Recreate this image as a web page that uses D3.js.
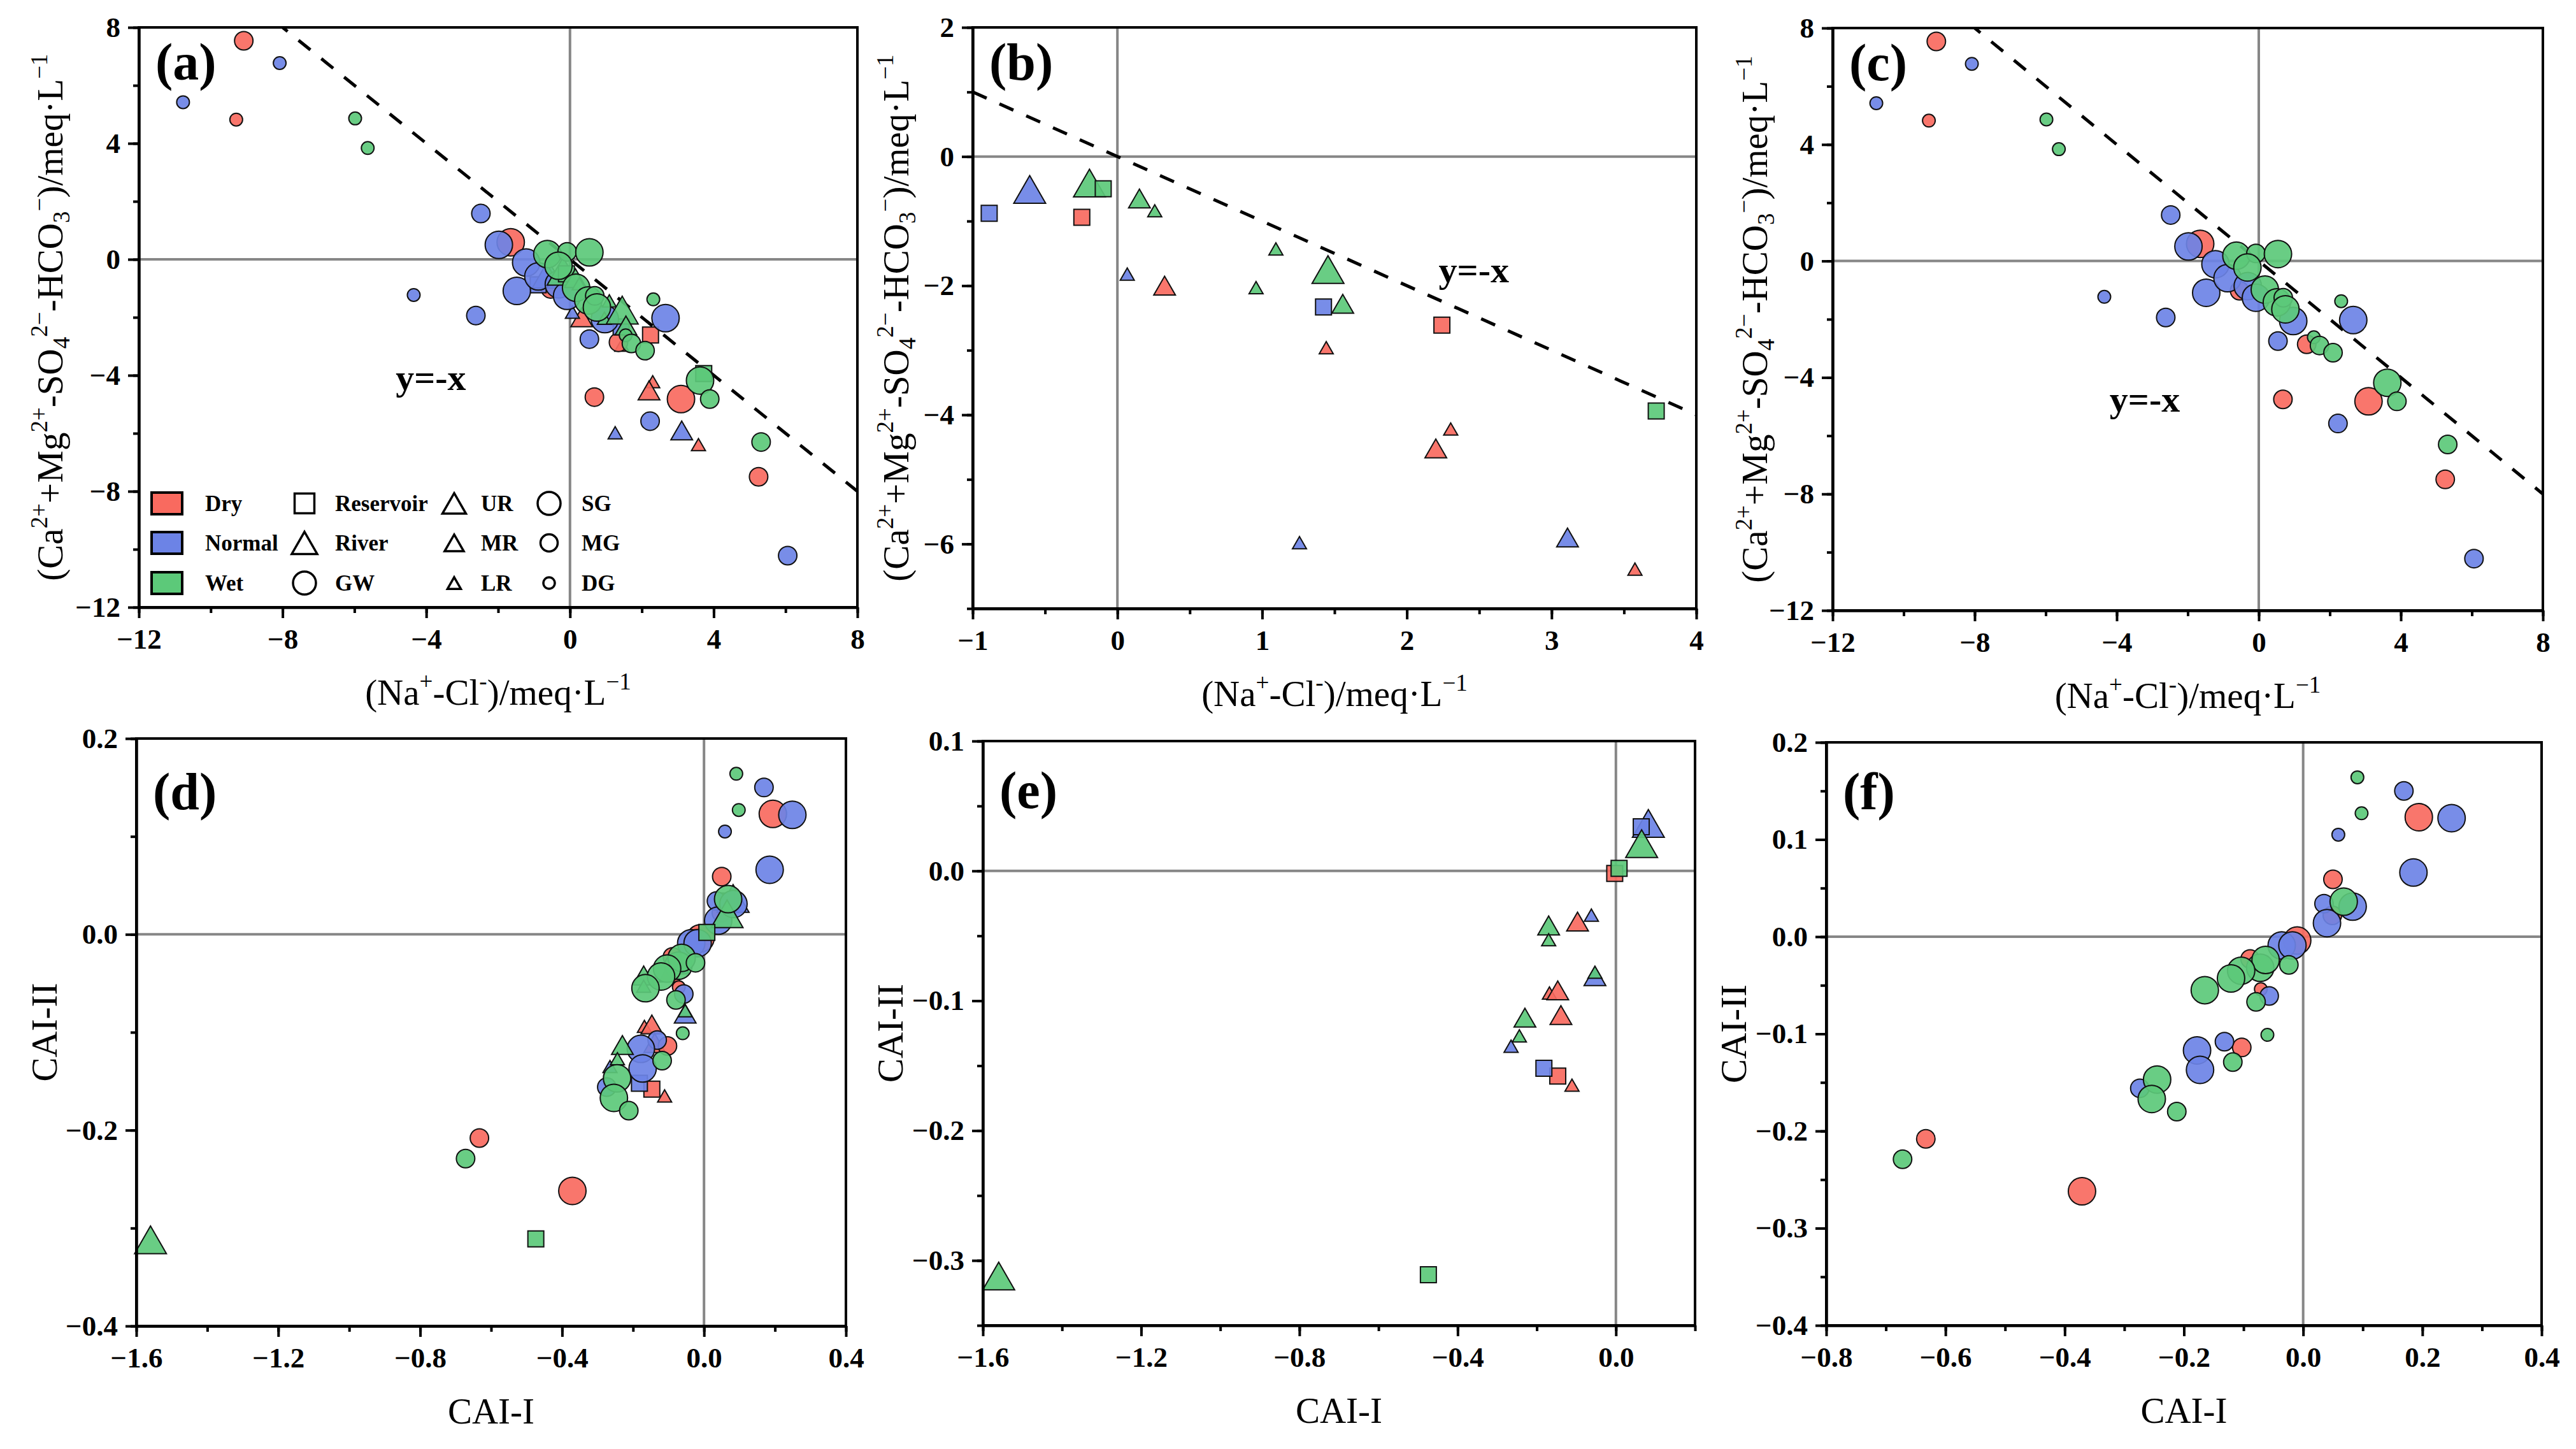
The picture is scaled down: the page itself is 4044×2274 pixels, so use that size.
<!DOCTYPE html>
<html>
<head>
<meta charset="utf-8">
<script src="https://cdn.jsdelivr.net/npm/d3@7"></script>
<style>
  body { margin: 0; background: #fff; }
  text { font-family: "Liberation Serif", "Times New Roman", serif; }
</style>
</head>
<body>
<div id="chart"></div>
<script>
// seasons and colours
var seasons = ["Dry", "Normal", "Wet"];
var seasonColor = { Dry: "#F96A5F", Normal: "#6C83E6", Wet: "#5CC979" };

// kind: Res = reservoir, UR/MR/LR = upper/middle/lower river, SG/MG/DG = shallow/middle/deep groundwater
// [season, kind, x, y]
// (b) surface water, (Na+-Cl-) vs (Ca2++Mg2+-SO42--HCO3-)
var surfaceIon = [
  ["Normal", "Res", -0.886, -0.88],
  ["Normal", "UR", -0.606, -0.51],
  ["Wet", "UR", -0.193, -0.41],
  ["Wet", "Res", -0.098, -0.50],
  ["Dry", "Res", -0.246, -0.94],
  ["Wet", "MR", 0.152, -0.65],
  ["Wet", "LR", 0.258, -0.84],
  ["Normal", "LR", 0.068, -1.82],
  ["Dry", "MR", 0.326, -2.0],
  ["Wet", "LR", 1.095, -1.43],
  ["Wet", "LR", 0.958, -2.03],
  ["Wet", "UR", 1.455, -1.75],
  ["Normal", "Res", 1.424, -2.33],
  ["Wet", "MR", 1.557, -2.28],
  ["Dry", "Res", 2.242, -2.61],
  ["Dry", "LR", 1.443, -2.96],
  ["Wet", "Res", 3.723, -3.94],
  ["Dry", "LR", 2.303, -4.22],
  ["Dry", "MR", 2.2, -4.52],
  ["Normal", "LR", 1.258, -5.98],
  ["Normal", "MR", 3.11, -5.9],
  ["Dry", "LR", 3.576, -6.39]
];

// (e) surface water, CAI-I vs CAI-II
var surfaceCai = [
  ["Normal", "UR", 0.082, 0.0366],
  ["Normal", "Res", 0.064, 0.034],
  ["Wet", "UR", 0.065, 0.021],
  ["Dry", "Res", -0.003, -0.002],
  ["Wet", "Res", 0.008, 0.002],
  ["Dry", "MR", -0.097, -0.039],
  ["Normal", "LR", -0.062, -0.034],
  ["Wet", "MR", -0.17, -0.042],
  ["Wet", "LR", -0.17, -0.053],
  ["Normal", "MR", -0.053, -0.081],
  ["Wet", "LR", -0.053, -0.078],
  ["Dry", "LR", -0.168, -0.094],
  ["Dry", "MR", -0.147, -0.092],
  ["Dry", "MR", -0.139, -0.111],
  ["Wet", "MR", -0.23, -0.113],
  ["Wet", "LR", -0.244, -0.127],
  ["Normal", "LR", -0.265, -0.135],
  ["Normal", "Res", -0.182, -0.152],
  ["Dry", "Res", -0.147, -0.158],
  ["Dry", "LR", -0.111, -0.165],
  ["Wet", "Res", -0.474, -0.311],
  ["Wet", "UR", -1.56, -0.312]
];

// (c) groundwater, ion exchange
var groundIon = [
  ["Dry", "MG", -9.08, 7.54],
  ["Normal", "DG", -8.08, 6.77],
  ["Normal", "DG", -10.77, 5.42],
  ["Dry", "DG", -9.29, 4.82],
  ["Wet", "DG", -5.98, 4.86],
  ["Wet", "DG", -5.63, 3.84],
  ["Normal", "MG", -2.48, 1.58],
  ["Dry", "SG", -1.65, 0.59],
  ["Normal", "SG", -1.98, 0.50],
  ["Normal", "SG", -1.22, -0.11],
  ["Normal", "SG", -1.48, -1.09],
  ["Normal", "DG", -4.35, -1.23],
  ["Normal", "MG", -2.62, -1.94],
  ["Dry", "MG", -0.54, -1.02],
  ["Normal", "SG", -0.88, -0.59],
  ["Normal", "SG", -0.31, -0.86],
  ["Normal", "SG", -0.08, -1.26],
  ["Wet", "SG", -0.63, 0.18],
  ["Wet", "MG", -0.08, 0.26],
  ["Wet", "SG", 0.54, 0.24],
  ["Wet", "SG", -0.32, -0.22],
  ["Wet", "SG", 0.17, -0.98],
  ["Wet", "SG", 0.51, -1.42],
  ["Wet", "MG", 0.69, -1.26],
  ["Wet", "SG", 0.75, -1.66],
  ["Normal", "SG", 0.97, -2.06],
  ["Normal", "MG", 0.54, -2.75],
  ["Dry", "MG", 1.35, -2.86],
  ["Wet", "DG", 1.55, -2.62],
  ["Wet", "MG", 1.71, -2.90],
  ["Wet", "MG", 2.09, -3.15],
  ["Wet", "DG", 2.32, -1.38],
  ["Normal", "SG", 2.66, -2.03],
  ["Wet", "SG", 3.62, -4.18],
  ["Dry", "SG", 3.09, -4.82],
  ["Wet", "MG", 3.89, -4.82],
  ["Dry", "MG", 0.68, -4.75],
  ["Normal", "MG", 2.23, -5.58],
  ["Wet", "MG", 5.32, -6.30],
  ["Dry", "MG", 5.25, -7.50],
  ["Normal", "MG", 6.06, -10.22]
];

// (f) groundwater, CAI
var groundCai = [
  ["Wet", "DG", 0.091, 0.164],
  ["Normal", "MG", 0.169, 0.150],
  ["Wet", "DG", 0.098, 0.127],
  ["Dry", "SG", 0.194, 0.123],
  ["Normal", "SG", 0.249, 0.122],
  ["Normal", "DG", 0.059, 0.105],
  ["Normal", "SG", 0.185, 0.066],
  ["Dry", "MG", 0.050, 0.059],
  ["Normal", "MG", 0.035, 0.034],
  ["Dry", "MG", 0.049, 0.022],
  ["Normal", "SG", 0.040, 0.014],
  ["Normal", "SG", 0.083, 0.031],
  ["Wet", "SG", 0.068, 0.036],
  ["Dry", "SG", -0.010, -0.004],
  ["Normal", "SG", -0.036, -0.009],
  ["Normal", "SG", -0.018, -0.009],
  ["Dry", "MG", -0.089, -0.023],
  ["Wet", "SG", -0.072, -0.032],
  ["Wet", "SG", -0.063, -0.024],
  ["Wet", "MG", -0.024, -0.029],
  ["Wet", "SG", -0.104, -0.035],
  ["Wet", "SG", -0.121, -0.043],
  ["Wet", "SG", -0.165, -0.055],
  ["Dry", "DG", -0.071, -0.054],
  ["Normal", "MG", -0.057, -0.061],
  ["Wet", "MG", -0.079, -0.067],
  ["Wet", "DG", -0.060, -0.101],
  ["Normal", "MG", -0.132, -0.108],
  ["Dry", "MG", -0.103, -0.114],
  ["Wet", "MG", -0.118, -0.129],
  ["Normal", "SG", -0.178, -0.117],
  ["Normal", "SG", -0.173, -0.137],
  ["Normal", "MG", -0.274, -0.156],
  ["Wet", "SG", -0.245, -0.147],
  ["Wet", "SG", -0.254, -0.167],
  ["Wet", "MG", -0.212, -0.180],
  ["Dry", "MG", -0.633, -0.208],
  ["Wet", "MG", -0.672, -0.229],
  ["Dry", "SG", -0.371, -0.262]
];

// legend labels
var legendSeason = ["Dry", "Normal", "Wet"];
var legendType = [["Res", "Reservoir"], ["River", "River"], ["GW", "GW"]];
var legendRiver = [["UR", "UR"], ["MR", "MR"], ["LR", "LR"]];
var legendGround = [["SG", "SG"], ["MG", "MG"], ["DG", "DG"]];

var W = 4044, H = 2274;
var svg = d3.select("#chart").append("svg")
    .attr("width", W)
    .attr("height", H);

var markSize = { Res: 25, UR: 50, MR: 34, LR: 22, SG: 43, MG: 29, DG: 20 };
var legendSize = { Res: 31, River: 40, GW: 36, UR: 37, MR: 30, LR: 21, SG: 36, MG: 27, DG: 18 };

function shapeOf(kind) {
  if (kind == "Res") return "square";
  if (kind == "UR" || kind == "MR" || kind == "LR" || kind == "River") return "triangle";
  return "circle";
}

function symbolPath(kind, s) {
  var p = d3.path(), h;
  var shape = shapeOf(kind);
  if (shape == "square") {
    p.rect(-s / 2, -s / 2, s, s);
  } else if (shape == "triangle") {
    h = s * 0.87;
    p.moveTo(0, -h / 2);
    p.lineTo(s / 2, h / 2);
    p.lineTo(-s / 2, h / 2);
    p.closePath();
  } else {
    p.arc(0, 0, s / 2, 0, Math.PI * 2);
    p.closePath();
  }
  return p.toString();
}

function fmtInt(v) { return (v < 0 ? "\u2212" : "") + Math.abs(v); }
function fmtDec(v) { return (v < 0 ? "\u2212" : "") + Math.abs(v).toFixed(1); }
function steps(a, b, st, k) {
  // values a..b with step st, all scaled by 1/k to avoid float noise
  return d3.range(a, b + st / 2, st).map(function(v) { return Math.round(v) / k; });
}

var ionX = [["(Na", ""], ["+", "sup"], ["-Cl", ""], ["-", "sup"], [")/meq\u00b7L", ""], ["\u22121", "sup"]];
var ionY = [["(Ca", ""], ["2+", "sup"], ["+Mg", ""], ["2+", "sup"], ["-SO", ""], ["4", "sub"], ["2\u2212", "sup"],
            ["-HCO", ""], ["3", "sub"], ["\u2212", "sup"], [")/meq\u00b7L", ""], ["\u22121", "sup"]];

function richText(sel, parts) {
  parts.forEach(function(p) {
    var t = sel.append("tspan").text(p[0]);
    if (p[1] == "sup") t.attr("font-size", "0.65em").attr("baseline-shift", "24px");
    if (p[1] == "sub") t.attr("font-size", "0.65em").attr("baseline-shift", "-11px");
  });
}

var panels = [
  { id: "a", l: 218, r: 1346, t: 43, b: 953, xd: [-12, 8], yd: [-12, 8],
    xt: steps(-12, 8, 4, 1), xm: steps(-12, 8, 2, 1), yt: steps(-12, 8, 4, 1), ym: steps(-12, 8, 2, 1),
    fmt: fmtInt, data: [surfaceIon, groundIon], diag: true, lab: [-4.85, -4.5], yOff: 140,
    xTitle: ionX, yTitle: ionY, legend: true, tag: 82 },
  { id: "b", l: 1527, r: 2663, t: 43, b: 955, xd: [-1, 4], yd: [-7, 2],
    xt: steps(-1, 4, 1, 1), xm: steps(-2, 8, 1, 2), yt: steps(-6, 2, 2, 1), ym: steps(-7, 2, 1, 1),
    fmt: fmtInt, data: [surfaceIon], diag: true, lab: [2.22, -1.95], yOff: 121,
    xTitle: ionX, yTitle: ionY, tag: 82 },
  { id: "c", l: 2877, r: 3992, t: 44, b: 958, xd: [-12, 8], yd: [-12, 8],
    xt: steps(-12, 8, 4, 1), xm: steps(-12, 8, 2, 1), yt: steps(-12, 8, 4, 1), ym: steps(-12, 8, 2, 1),
    fmt: fmtInt, data: [groundIon], diag: true, lab: [-4.2, -5.18], yOff: 123,
    xTitle: ionX, yTitle: ionY, tag: 82 },
  { id: "d", l: 214, r: 1328, t: 1159, b: 2081, xd: [-1.6, 0.4], yd: [-0.4, 0.2],
    xt: steps(-16, 4, 4, 10), xm: steps(-16, 4, 2, 10), yt: steps(-4, 2, 2, 10), ym: steps(-4, 2, 1, 10),
    fmt: fmtDec, data: [surfaceCai, groundCai], yOff: 145,
    xTitle: [["CAI-I", ""]], yTitle: [["CAI-II", ""]], tag: 111 },
  { id: "e", l: 1543, r: 2661, t: 1163, b: 2080, xd: [-1.6, 0.2], yd: [-0.35, 0.1],
    xt: steps(-16, 0, 4, 10), xm: steps(-16, 2, 2, 10), yt: steps(-3, 1, 1, 10), ym: steps(-7, 2, 1, 20),
    fmt: fmtDec, data: [surfaceCai], yOff: 146,
    xTitle: [["CAI-I", ""]], yTitle: [["CAI-II", ""]], tag: 105 },
  { id: "f", l: 2867, r: 3990, t: 1165, b: 2080, xd: [-0.8, 0.4], yd: [-0.4, 0.2],
    xt: steps(-8, 4, 2, 10), xm: steps(-8, 4, 1, 10), yt: steps(-4, 2, 1, 10), ym: steps(-8, 4, 1, 20),
    fmt: fmtDec, data: [groundCai], yOff: 146,
    xTitle: [["CAI-I", ""]], yTitle: [["CAI-II", ""]], tag: 105 }
];

panels.forEach(function(cfg) {
  var x = d3.scaleLinear().domain(cfg.xd).range([cfg.l, cfg.r]);
  var y = d3.scaleLinear().domain(cfg.yd).range([cfg.b, cfg.t]);
  var g = svg.append("g").attr("class", "panel-" + cfg.id);

  g.append("clipPath").attr("id", "clip-" + cfg.id)
    .append("rect")
      .attr("x", cfg.l).attr("y", cfg.t)
      .attr("width", cfg.r - cfg.l).attr("height", cfg.b - cfg.t);

  // zero lines
  g.append("line")
      .attr("x1", x(0)).attr("x2", x(0)).attr("y1", cfg.t).attr("y2", cfg.b)
      .attr("stroke", "#868686").attr("stroke-width", 4);
  g.append("line")
      .attr("x1", cfg.l).attr("x2", cfg.r).attr("y1", y(0)).attr("y2", y(0))
      .attr("stroke", "#868686").attr("stroke-width", 4);

  // y = -x reference
  if (cfg.diag) {
    g.append("line")
        .attr("clip-path", "url(#clip-" + cfg.id + ")")
        .attr("x1", x(cfg.xd[0])).attr("y1", y(-cfg.xd[0]))
        .attr("x2", x(cfg.xd[1])).attr("y2", y(-cfg.xd[1]))
        .attr("stroke", "#000").attr("stroke-width", 5)
        .attr("stroke-dasharray", "24,22");
    g.append("text")
        .attr("x", x(cfg.lab[0])).attr("y", y(cfg.lab[1]))
        .attr("font-size", 58).attr("font-weight", "bold")
        .text("y=-x");
  }

  // points, drawn season by season
  var pts = [];
  cfg.data.forEach(function(arr) { pts = pts.concat(arr); });
  seasons.forEach(function(s) {
    g.append("g").selectAll("path")
        .data(pts.filter(function(d) { return d[0] == s; }))
      .enter().append("path")
        .attr("d", function(d) { return symbolPath(d[1], markSize[d[1]]); })
        .attr("transform", function(d) { return "translate(" + x(d[2]) + "," + y(d[3]) + ")"; })
        .attr("fill", seasonColor[s])
        .attr("fill-opacity", 0.92)
        .attr("stroke", "#111")
        .attr("stroke-width", 2);
  });

  // axes
  var ax = g.append("g").attr("transform", "translate(0," + cfg.b + ")");
  ax.call(d3.axisBottom(x).tickValues(cfg.xm).tickSize(9).tickSizeOuter(0).tickFormat(""));
  ax.append("g").call(d3.axisBottom(x).tickValues(cfg.xt).tickSize(17).tickSizeOuter(0)
      .tickPadding(16).tickFormat(cfg.fmt));
  var ay = g.append("g").attr("transform", "translate(" + cfg.l + ",0)");
  ay.call(d3.axisLeft(y).tickValues(cfg.ym).tickSize(9).tickSizeOuter(0).tickFormat(""));
  ay.append("g").call(d3.axisLeft(y).tickValues(cfg.yt).tickSize(17).tickSizeOuter(0)
      .tickPadding(12).tickFormat(cfg.fmt));
  g.selectAll(".domain, .tick line").attr("stroke", "#000").attr("stroke-width", 4);
  g.selectAll(".tick text")
      .attr("font-size", 45).attr("font-weight", "bold").attr("fill", "#000");

  // frame
  g.append("rect")
      .attr("x", cfg.l).attr("y", cfg.t)
      .attr("width", cfg.r - cfg.l).attr("height", cfg.b - cfg.t)
      .attr("fill", "none").attr("stroke", "#000").attr("stroke-width", 4);

  // titles
  var xt = g.append("text")
      .attr("x", (cfg.l + cfg.r) / 2).attr("y", cfg.b + 153)
      .attr("text-anchor", "middle").attr("font-size", 57);
  richText(xt, cfg.xTitle);
  var cy = (cfg.t + cfg.b) / 2, cx = cfg.l - cfg.yOff;
  var yt = g.append("text")
      .attr("transform", "translate(" + cx + "," + cy + ")rotate(-90)")
      .attr("text-anchor", "middle").attr("dy", "0.35em").attr("font-size", 57);
  richText(yt, cfg.yTitle);

  // panel tag
  g.append("text")
      .attr("x", cfg.l + 26).attr("y", cfg.t + cfg.tag)
      .attr("font-size", 82).attr("font-weight", "bold")
      .text("(" + cfg.id + ")");

  if (cfg.legend) drawLegend(g);
});

function drawLegend(g) {
  var rowY = [790, 852, 915];
  var lg = g.append("g").attr("font-size", 35).attr("font-weight", "bold");
  legendSeason.forEach(function(s, i) {
    lg.append("rect")
        .attr("x", 238).attr("y", rowY[i] - 17).attr("width", 48).attr("height", 34)
        .attr("fill", seasonColor[s]).attr("stroke", "#000").attr("stroke-width", 4);
    lg.append("text").attr("x", 322).attr("y", rowY[i]).attr("dy", "0.35em").text(s);
  });
  var cols = [[legendType, 478, 526], [legendRiver, 713, 755], [legendGround, 862, 913]];
  cols.forEach(function(c) {
    c[0].forEach(function(e, i) {
      lg.append("path")
          .attr("d", symbolPath(e[0], legendSize[e[0]]))
          .attr("transform", "translate(" + c[1] + "," + rowY[i] + ")")
          .attr("fill", "#fff").attr("stroke", "#000").attr("stroke-width", 3.5);
      lg.append("text").attr("x", c[2]).attr("y", rowY[i]).attr("dy", "0.35em").text(e[1]);
    });
  });
}
</script>
</body>
</html>
